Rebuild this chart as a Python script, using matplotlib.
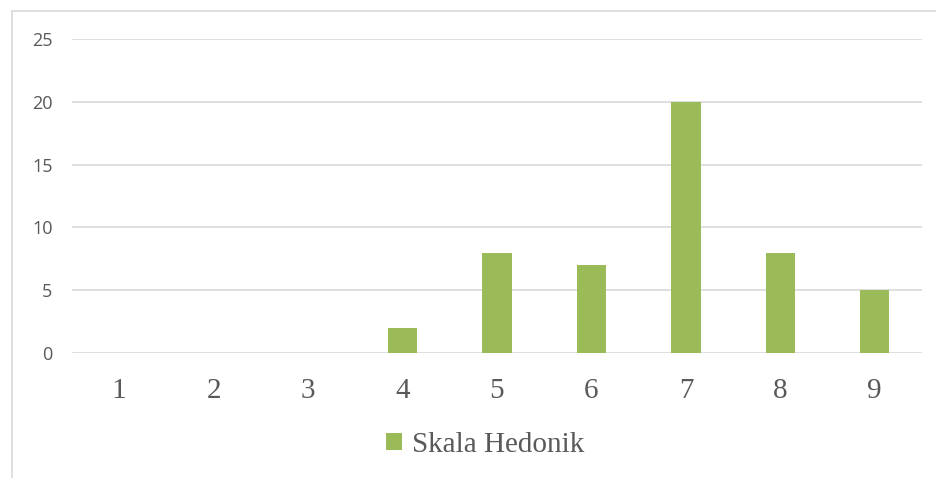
import matplotlib.pyplot as plt
from matplotlib.patches import Rectangle

categories = ["1", "2", "3", "4", "5", "6", "7", "8", "9"]
values = [0, 0, 0, 2, 8, 7, 20, 8, 5]
series_name = "Skala Hedonik"
yticks = [0, 5, 10, 15, 20, 25]

bar_color = "#9BBB59"
text_color = "#595959"
grid_color = "#D9D9D9"

fig = plt.figure(figsize=(9.37, 4.78), dpi=100)
ax = fig.add_axes([72 / 937, 1 - 353 / 478, 850 / 937, 314 / 478])

# chart border (Excel style)
fig.patches.append(Rectangle((12 / 937, -0.1), 1.2, 1 - 11 / 478 + 0.1,
                             transform=fig.transFigure, fill=False,
                             edgecolor=grid_color, linewidth=1.2))

x = list(range(len(categories)))
ax.bar(x, values, width=0.31, color=bar_color, label=series_name, zorder=3)

ax.set_xlim(-0.5, len(categories) - 0.5)
ax.set_ylim(0, 25)
ax.set_yticks(yticks)
ax.set_xticks(x)
ax.set_xticklabels(categories, fontfamily="Liberation Serif", fontsize=21,
                   color=text_color)
ax.set_yticklabels([str(t) for t in yticks], fontfamily="Open Sans",
                   fontsize=13, color=text_color)
ax.tick_params(axis="y", length=0, pad=14)
ax.tick_params(axis="x", length=0, pad=18)
ax.grid(axis="y", color=grid_color, linewidth=1.2, zorder=0)
for s in ax.spines.values():
    s.set_visible(False)

fig.legend(loc="center", bbox_to_anchor=(485 / 937, 1 - 445 / 478),
           frameon=False, handlelength=0.55, handleheight=0.55,
           handletextpad=0.35,
           prop={"family": "Liberation Serif", "size": 21},
           labelcolor=text_color)

plt.savefig("out.png", dpi=100)
